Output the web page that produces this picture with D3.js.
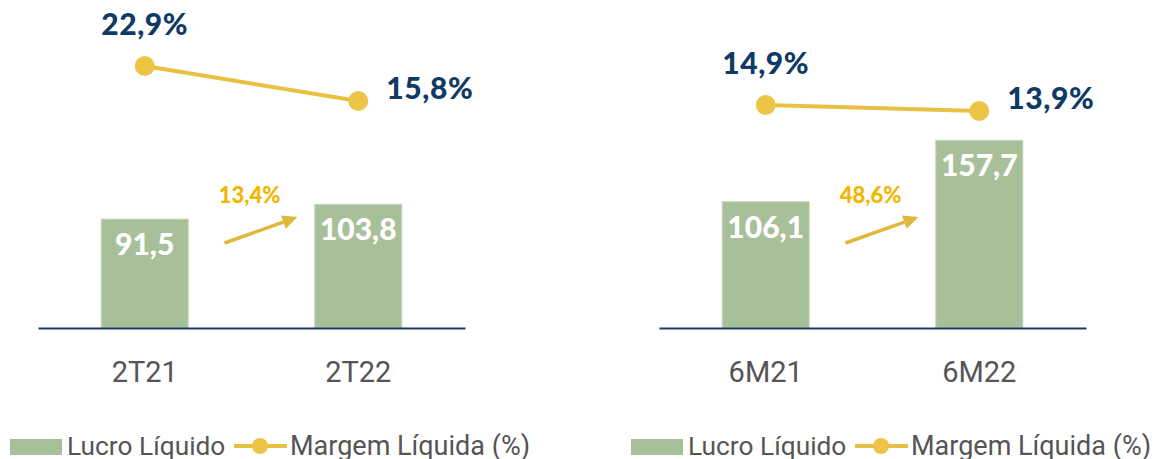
<!DOCTYPE html>
<html>
<head>
<meta charset="utf-8">
<script src="https://cdn.jsdelivr.net/npm/d3@7"></script>
<style>
  body { margin: 0; background: #fff; }
  svg { display: block; }
</style>
</head>
<body>
<script>
// chart data
var categoriesQ = ["2T21", "2T22"];
var lucroQ = [91.5, 103.8];
var margemQ = [22.9, 15.8];
var growthQ = "13,4%";

var categoriesS = ["6M21", "6M22"];
var lucroS = [106.1, 157.7];
var margemS = [14.9, 13.9];
var growthS = "48,6%";

var legendLabels = ["Lucro Líquido", "Margem Líquida (%)"];

// colors
var barColor = "#a8c09a";
var lineColor = "#e8c043";
var navy = "#0f3a66";
var gold = "#f2b600";
var arrowColor = "#e0b83c";
var gray = "#555555";

var svgWidth = 1154;
var svgHeight = 459;

var svg = d3.select("body")
  .append("svg")
  .attr("width", svgWidth)
  .attr("height", svgHeight);

var fmt = function(v) { return v.toFixed(1).replace(".", ","); };

function drawPanel(x0, categories, lucro, margem, growth, marginRange) {
  var panelWidth = 427;
  var baseY = 328;

  var g = svg.append("g");

  var x = d3.scaleBand()
    .domain(categories)
    .range([x0, x0 + panelWidth])
    .paddingInner(0.5925)
    .paddingOuter(0.296);

  var yBar = d3.scaleLinear()
    .domain([0, 100])
    .range([baseY, baseY - 119]);

  var yMargin = d3.scaleLinear()
    .domain([0, 30])
    .range(marginRange);

  // bars
  g.selectAll("rect.bar")
    .data(lucro)
    .enter()
    .append("rect")
    .attr("class", "bar")
    .attr("x", (d, i) => x(categories[i]))
    .attr("y", d => yBar(d))
    .attr("width", x.bandwidth())
    .attr("height", d => baseY - yBar(d))
    .attr("fill", barColor)
    .attr("stroke", "#c4d5b9")
    .attr("stroke-width", 1);

  // bar labels
  g.selectAll("text.barlabel")
    .data(lucro)
    .enter()
    .append("text")
    .attr("x", (d, i) => x(categories[i]) + x.bandwidth() / 2)
    .attr("y", d => yBar(d) + 36)
    .attr("text-anchor", "middle")
    .style("font-family", "Lato")
    .style("font-weight", "900")
    .style("font-size", "30px")
    .attr("fill", "#fff")
    .text(d => fmt(d));

  // x axis
  var axis = g.append("g")
    .attr("transform", "translate(0," + baseY + ")")
    .call(d3.axisBottom(x).tickSize(0).tickPadding(0));
  axis.select(".domain")
    .attr("stroke", "#1d3b61")
    .attr("stroke-width", 2.2);
  axis.selectAll("text")
    .attr("y", 54)
    .attr("dy", 0)
    .style("font-family", "Roboto")
    .style("font-size", "29px")
    .attr("fill", gray);

  // margin line
  var cx = (d, i) => x(categories[i]) + x.bandwidth() / 2;
  var line = d3.line()
    .x(cx)
    .y(d => yMargin(d));

  g.append("path")
    .attr("d", line(margem))
    .attr("fill", "none")
    .attr("stroke", lineColor)
    .attr("stroke-width", 4);

  g.selectAll("circle.pt")
    .data(margem)
    .enter()
    .append("circle")
    .attr("cx", cx)
    .attr("cy", d => yMargin(d))
    .attr("r", 10)
    .attr("fill", "#ecc547");

  g.selectAll("text.mlabel")
    .data(margem)
    .enter()
    .append("text")
    .attr("x", (d, i) => i === 0 ? cx(d, i) : cx(d, i) + 28)
    .attr("y", (d, i) => i === 0 ? yMargin(d) - 31 : yMargin(d) - 2)
    .attr("text-anchor", (d, i) => i === 0 ? "middle" : "start")
    .style("font-family", "Lato")
    .style("font-weight", "900")
    .style("font-size", "30px")
    .style("letter-spacing", "0.6px")
    .attr("fill", navy)
    .text(d => fmt(d) + "%");

  // growth annotation
  var mid = (cx(0, 0) + cx(0, 1)) / 2;
  g.append("text")
    .attr("x", mid - 2)
    .attr("y", 203)
    .attr("text-anchor", "middle")
    .style("font-family", "Lato")
    .style("font-weight", "900")
    .style("font-size", "22px")
    .attr("fill", gold)
    .text(growth);

  var tx = mid - 27, ty = 243, hx = mid + 46, hy = 217;
  var ang = Math.atan2(hy - ty, hx - tx);
  var headLen = 15, headW = 7;
  var bx = hx - headLen * Math.cos(ang), by = hy - headLen * Math.sin(ang);
  g.append("line")
    .attr("x1", tx).attr("y1", ty)
    .attr("x2", bx).attr("y2", by)
    .attr("stroke", arrowColor)
    .attr("stroke-width", 3.5);
  g.append("path")
    .attr("d", "M" + hx + "," + hy +
      "L" + (bx + headW * Math.sin(ang)) + "," + (by - headW * Math.cos(ang)) +
      "L" + (bx - headW * Math.sin(ang)) + "," + (by + headW * Math.cos(ang)) + "Z")
    .attr("fill", arrowColor);

  // legend
  var lg = g.append("g").attr("transform", "translate(" + (x0 - 28) + ",0)");
  lg.append("rect")
    .attr("x", 0).attr("y", 439)
    .attr("width", 52).attr("height", 16)
    .attr("fill", barColor);
  lg.append("text")
    .attr("x", 57).attr("y", 455)
    .style("font-family", "Roboto")
    .style("font-size", "26.3px")
    .attr("fill", gray)
    .text(legendLabels[0]);
  lg.append("line")
    .attr("x1", 224).attr("x2", 277)
    .attr("y1", 446).attr("y2", 446)
    .attr("stroke", lineColor)
    .attr("stroke-width", 4);
  lg.append("circle")
    .attr("cx", 250).attr("cy", 446).attr("r", 8)
    .attr("fill", "#ecc547");
  lg.append("text")
    .attr("x", 280).attr("y", 455)
    .style("font-family", "Roboto")
    .style("font-size", "27px")
    .attr("fill", gray)
    .text(legendLabels[1]);
}

drawPanel(38, categoriesQ, lucroQ, margemQ, growthQ, [178.9, 31]);
drawPanel(659, categoriesS, lucroS, margemS, growthS, [194.4, 14.4]);
</script>
</body>
</html>
